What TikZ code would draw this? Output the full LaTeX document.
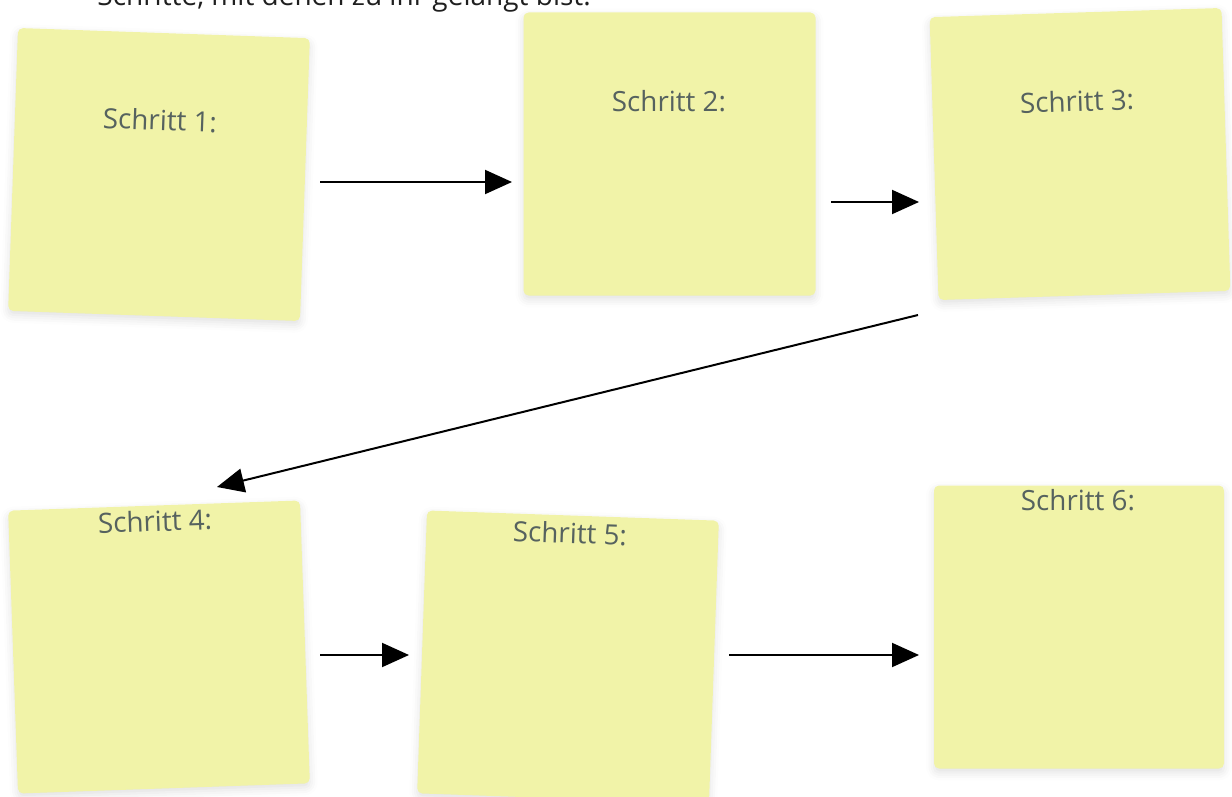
\documentclass[tikz,border=0pt]{standalone}
\usepackage{fontspec}
\setmainfont{Open Sans}
\usetikzlibrary{arrows.meta,shadows.blur}
\definecolor{notefill}{HTML}{F1F3A8}
\definecolor{notetext}{HTML}{56625F}
\tikzset{
  note/.style={fill=notefill, rounded corners=2.5pt, minimum width=146pt, minimum height=141.5pt, inner sep=0pt,
    blur shadow={shadow xshift=0pt, shadow yshift=-2pt, shadow blur radius=4pt, shadow opacity=12}},
  notelabel/.style={text=notetext, font=\fontsize{13.9}{16}\selectfont, inner sep=0pt},
  flow/.style={line width=1pt, -{Triangle[length=13.5pt,width=12pt]}},
}
\begin{document}
\begin{tikzpicture}[x=0.5pt, y=-0.5pt]
\useasboundingbox (0,0) rectangle (1232,797);
\clip (0,0) rectangle (1232,797);
\node[anchor=base west, text=black!88, font=\fontsize{14}{16}\selectfont, inner sep=0pt] (title) at (97,6) {Schritte, mit denen zu ihr gelangt bist.};

\node[note, rotate=-2] (n1) at (159,174.5) {};
\node[note] (n2) at (669.5,154) {};
\node[note, rotate=1.8] (n3) at (1080,154) {};
\node[note, rotate=2] (n4) at (159,647) {};
\node[note, rotate=-2] (n5) at (568,657) {};
\node[note, minimum width=145pt] (n6) at (1079,627) {};

\node[notelabel, rotate=-2] (t1) at (160,120) {Schritt 1:};
\node[notelabel] (t2) at (669,101) {Schritt 2:};
\node[notelabel, rotate=1.8] (t3) at (1077,101) {Schritt 3:};
\node[notelabel, rotate=2] (t4) at (155,521) {Schritt 4:};
\node[notelabel, rotate=-2] (t5) at (570,533) {Schritt 5:};
\node[notelabel] (t6) at (1078,500) {Schritt 6:};

\coordinate (a1s) at (320,182); \coordinate (a1e) at (512,182);
\coordinate (a2s) at (831,202); \coordinate (a2e) at (919,202);
\coordinate (a3s) at (918,315); \coordinate (a3e) at (217,487);
\coordinate (a4s) at (320,655); \coordinate (a4e) at (409,655);
\coordinate (a5s) at (729,655); \coordinate (a5e) at (919,655);
\draw[flow] (a1s) -- (a1e);
\draw[flow] (a2s) -- (a2e);
\draw[flow] (a3s) -- (a3e);
\draw[flow] (a4s) -- (a4e);
\draw[flow] (a5s) -- (a5e);
\end{tikzpicture}
\end{document}
